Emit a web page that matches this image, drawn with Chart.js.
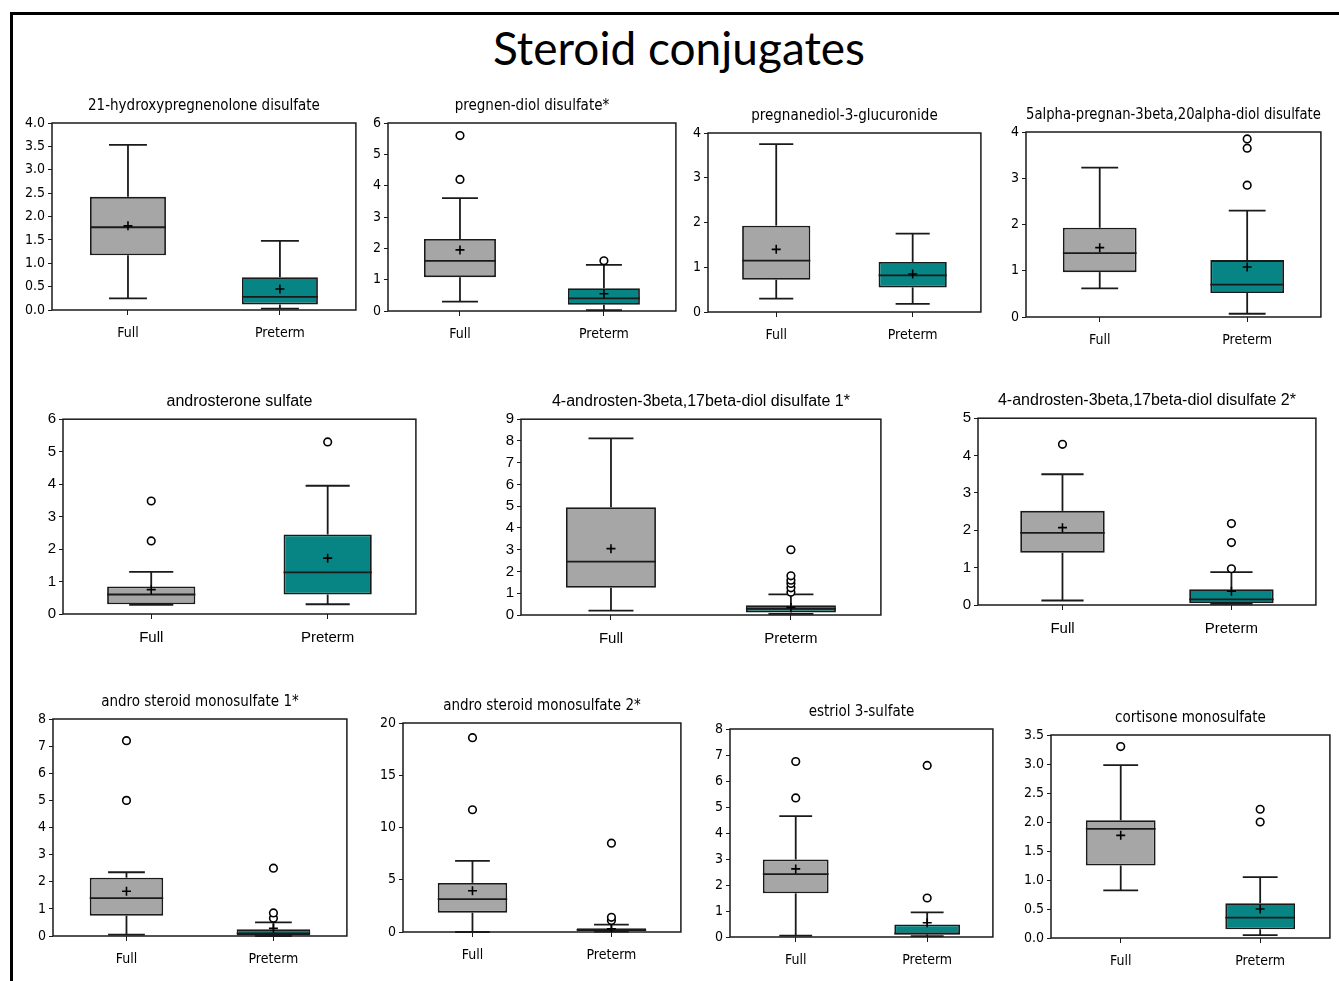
<!DOCTYPE html>
<html>
<head>
<meta charset="utf-8">
<script src="https://cdn.jsdelivr.net/npm/chart.js@4.4.1/dist/chart.umd.min.js"></script>
<style>
    html, body { margin: 0; padding: 0; background: #fff; overflow: hidden; }
    body { width: 1339px; height: 981px; position: relative; }
    #frame {
        position: absolute; left: 10px; top: 12px;
        width: 1400px; height: 1000px;
        border: 3px solid #000; box-sizing: border-box;
    }
    #main-title {
        position: absolute; left: 0; top: 22px; width: 1358px;
        text-align: center; font: 46px Lato, "Open Sans", sans-serif;
        line-height: 52px; color: #000;
    }
    canvas { position: absolute; }
</style>
</head>
<body>
<div id="frame"></div>
<div id="main-title">Steroid conjugates</div>

<script>
// ---- data (per panel: [Full, Preterm]) ----
const groups = ['Full', 'Preterm'];

const titles = [
    '21-hydroxypregnenolone disulfate',
    'pregnen-diol disulfate*',
    'pregnanediol-3-glucuronide',
    '5alpha-pregnan-3beta,20alpha-diol disulfate',
    'androsterone sulfate',
    '4-androsten-3beta,17beta-diol disulfate 1*',
    '4-androsten-3beta,17beta-diol disulfate 2*',
    'andro steroid monosulfate 1*',
    'andro steroid monosulfate 2*',
    'estriol 3-sulfate',
    'cortisone monosulfate'
];

const yMax  = [4, 6, 4, 4, 6, 9, 5, 8, 20, 8, 3.5];
const yStep = [0.5, 1, 1, 1, 1, 1, 1, 1, 5, 1, 0.5];

const whiskerLow = [[0.25, 0.03], [0.3, 0.03], [0.3, 0.18], [0.62, 0.07], [0.28, 0.3], [0.2, 0.05],
                    [0.12, 0.03], [0.05, 0.0], [0.0, 0.05], [0.05, 0.03], [0.82, 0.05]];
const q1         = [[1.17, 0.12], [1.08, 0.2], [0.72, 0.55], [0.97, 0.52], [0.3, 0.6], [1.25, 0.12],
                    [1.4, 0.05], [0.75, 0.02], [1.85, 0.1], [1.68, 0.1], [1.25, 0.15]];
const median     = [[1.77, 0.28], [1.6, 0.4], [1.15, 0.82], [1.38, 0.7], [0.6, 1.28], [2.45, 0.28],
                    [1.93, 0.15], [1.4, 0.1], [3.15, 0.2], [2.42, 0.13], [1.88, 0.35]];
const q3         = [[2.42, 0.7], [2.3, 0.73], [1.93, 1.12], [1.93, 1.23], [0.85, 2.45], [4.95, 0.45],
                    [2.52, 0.42], [2.15, 0.25], [4.7, 0.35], [2.98, 0.48], [2.03, 0.6]];
const whiskerHigh = [[3.53, 1.48], [3.6, 1.47], [3.75, 1.75], [3.23, 2.3], [1.3, 3.95], [8.12, 0.95],
                    [3.5, 0.88], [2.35, 0.5], [6.8, 0.7], [4.65, 0.95], [2.98, 1.05]];
const means      = [[1.8, 0.45], [1.95, 0.55], [1.4, 0.85], [1.5, 1.08], [0.75, 1.72], [3.05, 0.35],
                    [2.07, 0.37], [1.65, 0.28], [3.95, 0.3], [2.62, 0.55], [1.77, 0.5]];
const outliers = [
    [[], []],
    [[4.2, 5.6], [1.6]],
    [[], []],
    [[], [2.85, 3.65, 3.85]],
    [[2.25, 3.48], [5.3]],
    [[], [1.05, 1.25, 1.45, 1.6, 1.8, 3.0]],
    [[4.3], [0.97, 1.67, 2.18]],
    [[5.0, 7.2], [0.65, 0.85, 2.5]],
    [[11.7, 18.6], [1.1, 1.4, 8.5]],
    [[5.35, 6.75], [1.5, 6.6]],
    [[3.3], [2.0, 2.22]]
];

// ---- layout: plot area rectangles [left, top, right, bottom] ----
const plotRects = [
    [52, 123, 358, 310], [388, 123, 678, 311], [708, 133, 983, 312], [1026, 132, 1323, 317],
    [63, 419, 418, 614], [521, 419, 883, 615], [978, 418, 1318, 605],
    [53, 719, 349, 936], [403, 723, 683, 932], [730, 729, 995, 937], [1051, 735, 1332, 938]
];
const rowOf = [0, 0, 0, 0, 1, 1, 1, 2, 2, 2, 2];
const rowFonts = [
    { family: "'Liberation Sans Narrow', 'DejaVu Sans Condensed', sans-serif", title: 15, tick: 14 },
    { family: "'Liberation Sans', Arial, sans-serif", title: 16, tick: 15 },
    { family: "'Liberation Sans Narrow', 'DejaVu Sans Condensed', sans-serif", title: 15, tick: 14 }
];

const FULL_COLOR = '#a6a6a6';
const PRETERM_COLOR = '#078585';
const LINE_COLOR = '#1a1a1a';
const LINE_W = 1.8;

const Y_AXIS_W = 45;
const X_AXIS_H = 40;
const PAD_RIGHT = 4;
const TITLE_GAP = 8;

// draws the plot frame, whiskers and median lines through the chart scales
const boxWhiskers = {
    id: 'boxWhiskers',
    beforeDatasetsDraw(chart) {
        const a = chart.chartArea;
        const ctx = chart.ctx;
        ctx.save();
        ctx.strokeStyle = LINE_COLOR;
        ctx.lineWidth = 1.5;
        ctx.strokeRect(a.left, a.top, a.right - a.left, a.bottom - a.top);
        ctx.restore();
    },
    afterDatasetDraw(chart, args, opts) {
        if (args.index !== 0) return;
        const ctx = chart.ctx;
        const y = chart.scales.y;
        ctx.save();
        ctx.strokeStyle = LINE_COLOR;
        ctx.lineWidth = LINE_W;
        args.meta.data.forEach((bar, i) => {
            const half = bar.width / 2;
            const cap = half * 0.5;
            const seg = (x1, y1, x2, y2) => {
                ctx.beginPath();
                ctx.moveTo(x1, y1);
                ctx.lineTo(x2, y2);
                ctx.stroke();
            };
            const pLow = y.getPixelForValue(opts.low[i]);
            const pQ1 = y.getPixelForValue(opts.q1[i]);
            const pQ3 = y.getPixelForValue(opts.q3[i]);
            const pHigh = y.getPixelForValue(opts.high[i]);
            const pMed = y.getPixelForValue(opts.median[i]);
            seg(bar.x, pQ1, bar.x, pLow);
            seg(bar.x - cap, pLow, bar.x + cap, pLow);
            seg(bar.x, pQ3, bar.x, pHigh);
            seg(bar.x - cap, pHigh, bar.x + cap, pHigh);
            seg(bar.x - half, pMed, bar.x + half, pMed);
        });
        ctx.restore();
    }
};

function makePanel(i) {
    const [L, T, R, B] = plotRects[i];
    const f = rowFonts[rowOf[i]];
    const titleBox = Math.round(f.title * 1.2) + TITLE_GAP;

    const canvas = document.createElement('canvas');
    canvas.width = (R - L) + Y_AXIS_W + PAD_RIGHT;
    canvas.height = (B - T) + titleBox + X_AXIS_H;
    canvas.style.left = (L - Y_AXIS_W) + 'px';
    canvas.style.top = (T - titleBox) + 'px';
    document.body.appendChild(canvas);

    const decimals = yStep[i] < 1 ? 1 : 0;
    const meanPts = groups.map((g, k) => ({ x: g, y: means[i][k] }));
    const outPts = [];
    groups.forEach((g, k) => outliers[i][k].forEach(v => outPts.push({ x: g, y: v })));

    new Chart(canvas, {
        type: 'bar',
        data: {
            labels: groups,
            datasets: [
                {
                    label: 'IQR',
                    data: groups.map((g, k) => [q1[i][k], q3[i][k]]),
                    backgroundColor: [FULL_COLOR, PRETERM_COLOR],
                    borderColor: LINE_COLOR,
                    borderWidth: LINE_W,
                    borderSkipped: false,
                    barPercentage: 0.5,
                    categoryPercentage: 1,
                    order: 2,
                },
                {
                    type: 'line',
                    label: 'mean',
                    data: meanPts,
                    showLine: false,
                    pointStyle: 'cross',
                    pointRadius: 4.5,
                    borderColor: '#000',
                    borderWidth: 1.6,
                    order: 0,
                },
                {
                    type: 'line',
                    label: 'outliers',
                    data: outPts,
                    showLine: false,
                    pointStyle: 'circle',
                    pointRadius: 3.8,
                    backgroundColor: '#fff',
                    borderColor: '#000',
                    borderWidth: 1.6,
                    order: 1,
                }
            ]
        },
        options: {
            responsive: false,
            animation: false,
            layout: { padding: { left: 0, right: PAD_RIGHT, top: 0, bottom: 0 } },
            plugins: {
                legend: { display: false },
                tooltip: { enabled: false },
                title: {
                    display: true,
                    text: titles[i],
                    fullSize: false,
                    color: '#000',
                    font: { family: f.family, size: f.title, weight: 'normal' },
                    padding: { top: 0, bottom: TITLE_GAP },
                },
                boxWhiskers: {
                    low: whiskerLow[i], q1: q1[i], q3: q3[i],
                    high: whiskerHigh[i], median: median[i]
                }
            },
            scales: {
                x: {
                    offset: true,
                    grid: { display: true, offset: false, drawOnChartArea: false, tickLength: 5, color: LINE_COLOR },
                    border: { display: false },
                    ticks: { color: '#000', padding: 10, font: { family: f.family, size: f.tick } },
                    afterFit(scale) { scale.height = X_AXIS_H; }
                },
                y: {
                    min: 0,
                    max: yMax[i],
                    grid: { display: true, drawOnChartArea: false, tickLength: 4, color: LINE_COLOR },
                    border: { display: false },
                    ticks: {
                        stepSize: yStep[i],
                        color: '#000',
                        padding: 3,
                        font: { family: f.family, size: f.tick },
                        callback: (v) => Number(v).toFixed(decimals)
                    },
                    afterFit(scale) { scale.width = Y_AXIS_W; }
                }
            }
        },
        plugins: [boxWhiskers]
    });
}

titles.forEach((t, i) => makePanel(i));
</script>
</body>
</html>
